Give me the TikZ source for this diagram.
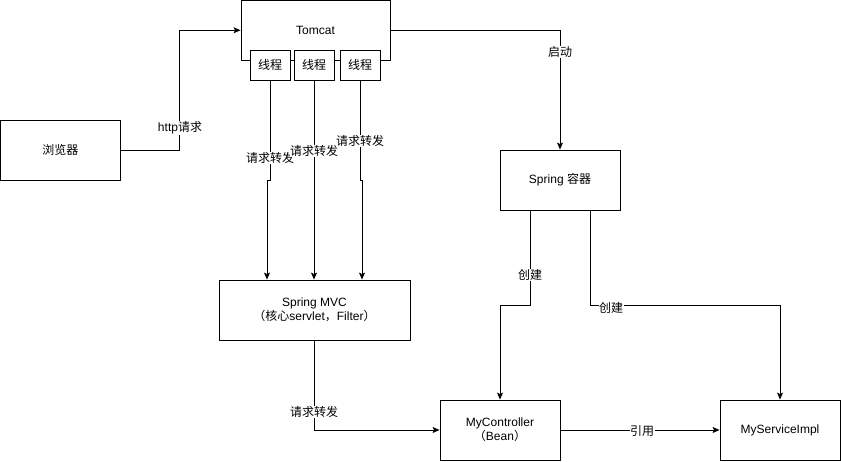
\documentclass[tikz,border=0pt]{standalone}
\usepackage{fontspec}
\setmainfont{Liberation Sans}
\newfontfamily\cjk{Noto Sans CJK SC}
\usetikzlibrary{arrows.meta,calc}
\begin{document}
\begin{tikzpicture}[x=1pt,y=-1pt,
  box/.style={draw, line width=0.9pt, inner sep=0pt, align=center, font=\fontsize{12}{14}\selectfont},
  arr/.style={draw, line width=0.9pt, -{Stealth[length=7pt,width=6pt,inset=1.5pt]}},
  lbl/.style={fill=white, inner sep=0.5pt, font=\fontsize{12}{14}\selectfont}]
\useasboundingbox (0,0) rectangle (841,461);
\fill[white] (0,0) rectangle (841,461);
% boxes
\node[box, minimum width=149pt, minimum height=59.5pt] (tomcat) at (315.5,30.25) {Tomcat};
\node[box, fill=white, minimum width=40pt, minimum height=30pt] (t1) at (270,65) {\cjk 线程};
\node[box, fill=white, minimum width=40pt, minimum height=30pt] (t2) at (314,65) {\cjk 线程};
\node[box, fill=white, minimum width=40pt, minimum height=30pt] (t3) at (360,65) {\cjk 线程};
\node[box, minimum width=119.5pt, minimum height=60pt] (browser) at (60.25,150) {\cjk 浏览器};
\node[box, minimum width=120pt, minimum height=60pt] (spring) at (560,180) {Spring {\cjk 容器}};
\node[box, minimum width=191pt, minimum height=60pt] (mvc) at (314.5,310) {Spring MVC\\{\cjk （核心}servlet{\cjk ，}Filter{\cjk ）}};
\node[box, minimum width=120pt, minimum height=60pt] (ctrl) at (500,430) {MyController\\{\cjk （}Bean{\cjk ）}};
\node[box, minimum width=120pt, minimum height=60pt] (svc) at (780,430) {MyServiceImpl};
% connectors
\draw[arr] (browser.east) -| ([xshift=-61pt]tomcat.west) -- (tomcat.west);
\node[lbl] (lhttp) at (180,128) {http{\cjk 请求}};
\draw[arr] (tomcat.east) -| (spring.north);
\node[lbl] (lqd) at (560,52) {\cjk 启动};
\draw[arr] (t1.south) -- ++(0,100) -- ++(-3,0) -- ($(t1.south |- mvc.north)+(-3,0)$);
\node[lbl] (lf1) at (270,158) {\cjk 请求转发};
\draw[arr] (t2.south) -- (t2.south |- mvc.north);
\node[lbl] (lf2) at (314,151) {\cjk 请求转发};
\draw[arr] (t3.south) -- ++(0,100) -- ++(2,0) -- ($(t3.south |- mvc.north)+(2,0)$);
\node[lbl] (lf3) at (360,141) {\cjk 请求转发};
\draw[arr] (mvc.south) |- (ctrl.west);
\node[lbl] (lf4) at (314,412) {\cjk 请求转发};
\draw[arr] ([xshift=-30pt]spring.south) -- ++(0,95) -| (ctrl.north);
\node[lbl] (lc1) at (530,275) {\cjk 创建};
\draw[arr] ([xshift=30pt]spring.south) -- ++(0,95) -| (svc.north);
\node[lbl] (lc2) at (611,308) {\cjk 创建};
\draw[arr] (ctrl.east) -- (svc.west);
\node[lbl] (lyy) at (642,431) {\cjk 引用};
\end{tikzpicture}
\end{document}
